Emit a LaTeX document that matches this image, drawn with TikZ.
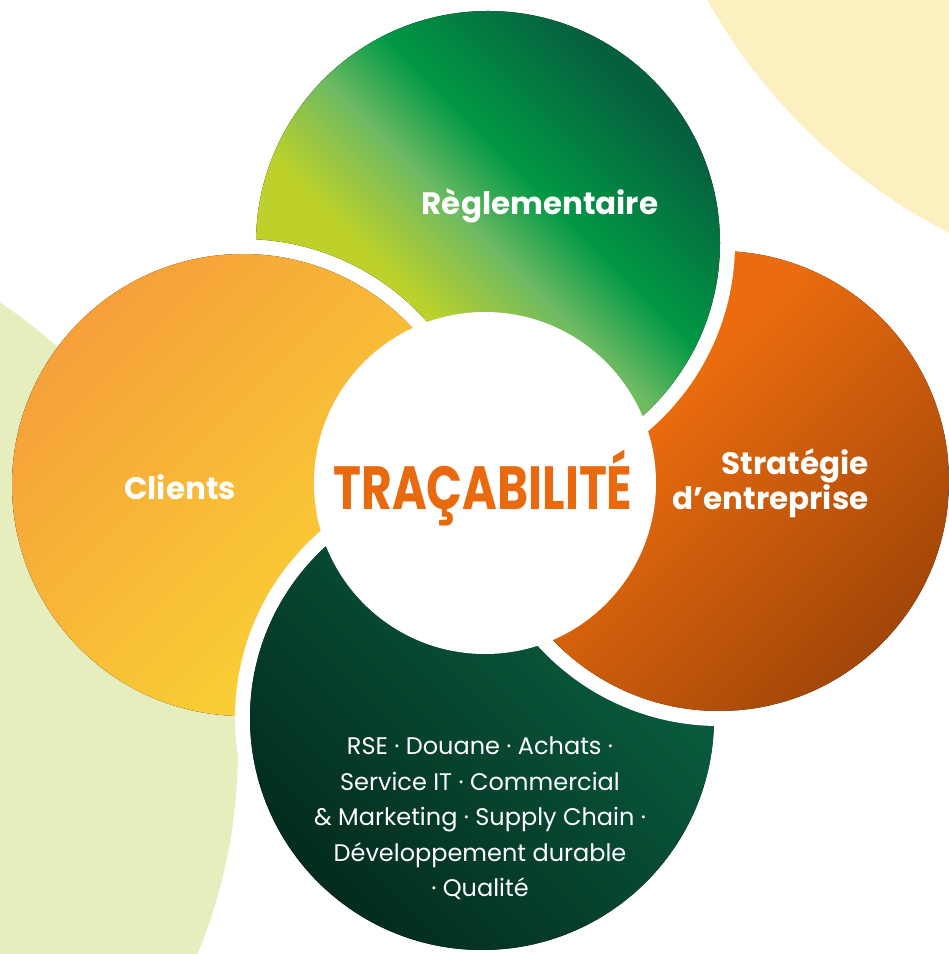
\documentclass[tikz,border=0pt]{standalone}
\usepackage{fontspec}
\setmainfont{Poppins}
\usepackage{graphicx}

\definecolor{paleyellow}{RGB}{252,239,192}
\definecolor{palegreen}{RGB}{230,238,189}
\definecolor{tracorange}{RGB}{233,106,14}
\definecolor{reglime}{RGB}{189,209,42}
\definecolor{reglight}{RGB}{108,186,98}
\definecolor{regbright}{RGB}{0,152,68}
\definecolor{regdeep}{RGB}{6,96,62}
\definecolor{stratlight}{RGB}{234,108,14}
\definecolor{stratdeep}{RGB}{162,70,8}
\definecolor{servlight}{RGB}{10,100,67}
\definecolor{servdeep}{RGB}{3,44,28}
\definecolor{cliorange}{RGB}{246,160,58}
\definecolor{cliyellow}{RGB}{250,216,52}

\pgfdeclarehorizontalshading{regshade}{100bp}{color(0bp)=(reglime); color(40bp)=(reglime);
  color(50bp)=(reglight); color(58bp)=(regbright); color(73bp)=(regdeep); color(100bp)=(regdeep)}
\pgfdeclarehorizontalshading{stratshade}{100bp}{color(0bp)=(stratlight); color(40bp)=(stratlight);
  color(75bp)=(stratdeep); color(100bp)=(stratdeep)}
\pgfdeclarehorizontalshading{servshade}{100bp}{color(0bp)=(servdeep); color(25bp)=(servdeep);
  color(75bp)=(servlight); color(100bp)=(servlight)}
\pgfdeclarehorizontalshading{clishade}{100bp}{color(0bp)=(cliorange); color(25bp)=(cliorange);
  color(75bp)=(cliyellow); color(100bp)=(cliyellow)}

\tikzset{
  gap/.style={fill=white},
  petal label/.style={text=white, font=\fontsize{31}{35}\selectfont\bfseries},
  list label/.style={text=white, align=center, font=\fontsize{24}{35.5}\selectfont}
}

\begin{document}
\begin{tikzpicture}[x=1pt,y=1pt]
  \clip (0,0) rectangle (949,954);

  % Background discs
  \fill[paleyellow] (1212,1236) circle (578);
  \fill[palegreen] (-300,205) circle (538);

  % Centres of the petals
  \coordinate (cli) at (243,469);
  \coordinate (reg) at (488,711);
  \coordinate (strat) at (719,473);
  \coordinate (serv) at (482,236);
  \coordinate (heart) at (485,471);

  % Petals, each one over the next
  \fill[shading=clishade, shading angle=-45] (cli) circle (231);
  \fill[gap] (serv) circle (247);
  \fill[shading=servshade, shading angle=45] (serv) circle (232);
  \fill[gap] (strat) circle (245);
  \fill[shading=stratshade, shading angle=-45] (strat) circle (230);

  % Reglementaire goes under Clients: keep it out of the Clients disc
  \begin{scope}
    \clip (-10,-10) -- (960,-10) -- (960,970) -- (-10,970) -- cycle
      ([shift={(246,0)}]cli) arc[start angle=0, end angle=-360, radius=246];
    \fill[gap] (reg) circle (247);
    \fill[shading=regshade, shading angle=45] (reg) circle (232);
  \end{scope}

  % White heart
  \fill[white] (heart) circle (171);

  % Labels
  \node[petal label, anchor=base] (reglabel) at (540,739) {Règlementaire};
  \node[petal label, anchor=base] (clilabel) at (180,454) {Clients};
  \node[petal label, anchor=base east, align=right] (stratlabel) at (872,444) {Stratégie\\d’entreprise};
  \node[text=tracorange, anchor=base, font=\fontsize{61}{61}\selectfont\bfseries] (title) at (483,444)
    {\resizebox{299pt}{\height}{TRAÇABILITÉ}};
  \node[list label, anchor=base] (servlabel) at (480,57)
    {RSE · Douane · Achats ·\\Service IT · Commercial\\\& Marketing · Supply Chain ·\\Développement durable\\· Qualité};
\end{tikzpicture}
\end{document}
